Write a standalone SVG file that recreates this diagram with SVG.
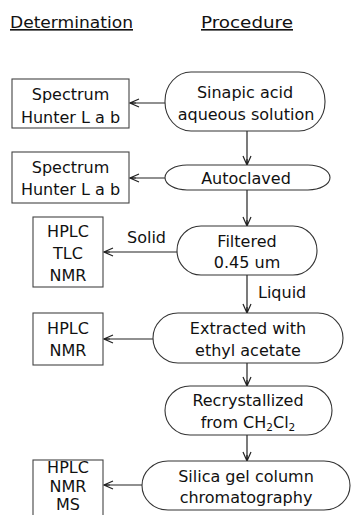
<svg xmlns="http://www.w3.org/2000/svg" width="352" height="515" viewBox="0 0 352 515">
<defs>
<style>
text{font-family:"DejaVu Sans","Liberation Sans",sans-serif;font-size:16px;fill:#111;text-anchor:middle}
.hdr{text-anchor:start;text-decoration:underline}
.lbl{text-anchor:start}
.box{fill:#fff;stroke:#444;stroke-width:1.1}
.stad{fill:#fff;stroke:#333;stroke-width:1.1}
.conn{fill:none;stroke:#222;stroke-width:1.2}
.sub{font-size:10.5px}
</style>
<marker id="ahd" markerWidth="12" markerHeight="10" refX="11" refY="5" orient="auto" markerUnits="userSpaceOnUse" viewBox="0 0 12 10">
<path d="M2,1 L11,5 L2,9 M11,5 L5,5" fill="none" stroke="#222" stroke-width="1.2"/>
</marker>
</defs>

<g id="headers">
<text class="hdr" x="10" y="28" textLength="123" lengthAdjust="spacingAndGlyphs">Determination</text>
<text class="hdr" x="201" y="28" textLength="92" lengthAdjust="spacingAndGlyphs">Procedure</text>
</g>

<g id="connectors">
<line class="conn" x1="165" y1="103" x2="130" y2="103" marker-end="url(#ahd)"/>
<line class="conn" x1="165" y1="178" x2="130" y2="178" marker-end="url(#ahd)"/>
<line class="conn" x1="177" y1="252" x2="104" y2="252" marker-end="url(#ahd)"/>
<line class="conn" x1="153" y1="339" x2="104" y2="339" marker-end="url(#ahd)"/>
<line class="conn" x1="142" y1="485" x2="104" y2="485" marker-end="url(#ahd)"/>
<line class="conn" x1="247" y1="131" x2="247" y2="165" marker-end="url(#ahd)"/>
<line class="conn" x1="247" y1="190" x2="247" y2="226" marker-end="url(#ahd)"/>
<line class="conn" x1="247" y1="275" x2="247" y2="313" marker-end="url(#ahd)"/>
<line class="conn" x1="247" y1="363" x2="247" y2="386" marker-end="url(#ahd)"/>
<line class="conn" x1="247" y1="435" x2="247" y2="461" marker-end="url(#ahd)"/>
<text class="lbl" x="127" y="243">Solid</text>
<text class="lbl" x="258" y="298">Liquid</text>
</g>

<g id="n-sinapic">
<rect class="stad" x="165" y="72" width="160" height="59" rx="26" ry="29"/>
<text x="245" y="98">Sinapic acid</text>
<text x="246" y="120">aqueous solution</text>
</g>
<g id="n-autoclaved">
<rect class="stad" x="165" y="165" width="165" height="25" rx="22" ry="12.5"/>
<text x="246" y="184">Autoclaved</text>
</g>
<g id="n-filtered">
<rect class="stad" x="177" y="226" width="140" height="49" rx="24" ry="24.5"/>
<text x="247" y="247">Filtered</text>
<text x="247" y="268">0.45 um</text>
</g>
<g id="n-extracted">
<rect class="stad" x="153" y="313" width="190" height="50" rx="25" ry="25"/>
<text x="248" y="334">Extracted with</text>
<text x="248" y="356">ethyl acetate</text>
</g>
<g id="n-recryst">
<rect class="stad" x="165" y="386" width="167" height="49" rx="25" ry="24.5"/>
<text x="248" y="406">Recrystallized</text>
<text x="248" y="428">from CH<tspan class="sub" dy="3">2</tspan><tspan dy="-3">Cl</tspan><tspan class="sub" dy="3">2</tspan></text>
</g>
<g id="n-silica">
<rect class="stad" x="142" y="461" width="208" height="49" rx="26" ry="24.5"/>
<text x="246" y="482">Silica gel column</text>
<text x="246" y="503">chromatography</text>
</g>

<g id="d-spectrum1">
<rect class="box" x="12" y="79" width="117" height="49"/>
<text x="70.5" y="100">Spectrum</text>
<text x="70.5" y="123">Hunter L a b</text>
</g>
<g id="d-spectrum2">
<rect class="box" x="12" y="152" width="117" height="51"/>
<text x="70.5" y="173">Spectrum</text>
<text x="70.5" y="195">Hunter L a b</text>
</g>
<g id="d-hplc1">
<rect class="box" x="33" y="217" width="70" height="70"/>
<text x="68" y="237">HPLC</text>
<text x="68" y="259">TLC</text>
<text x="68" y="281">NMR</text>
</g>
<g id="d-hplc2">
<rect class="box" x="33" y="313" width="70" height="52"/>
<text x="68" y="334">HPLC</text>
<text x="68" y="356">NMR</text>
</g>
<g id="d-hplc3">
<rect class="box" x="33" y="460" width="70" height="62"/>
<text x="68" y="473">HPLC</text>
<text x="68" y="492">NMR</text>
<text x="68" y="510">MS</text>
</g>
</svg>
